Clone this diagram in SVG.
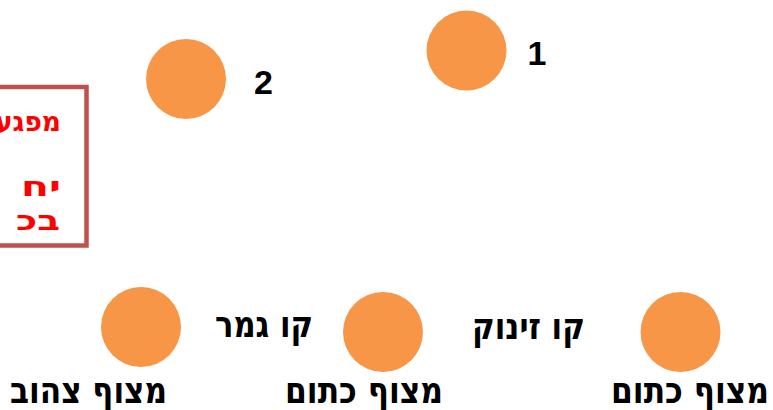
<svg xmlns="http://www.w3.org/2000/svg" width="773" height="410" viewBox="0 0 773 410">
<style>
.buoy{fill:#F79646;}
.lbl{font-family:"Liberation Sans",Arial,sans-serif;font-weight:bold;fill:#000;text-anchor:middle;}
.he{font-family:"DejaVu Sans","Liberation Sans",sans-serif;font-size:36px;}
.num{font-size:34px;}
.note{font-family:"DejaVu Sans","Liberation Sans",sans-serif;font-weight:bold;fill:#FF0000;font-size:28px;text-anchor:end;}
</style>
<rect width="773" height="410" fill="#FFFFFF"/>
<g id="note">
<rect x="-10" y="87" width="96.5" height="158.5" fill="none" stroke="#C0504D" stroke-width="4.5"/>
<text class="note" x="61" y="131" textLength="66" lengthAdjust="spacingAndGlyphs">מפגע</text>
<text class="note" x="61" y="196" textLength="40" lengthAdjust="spacingAndGlyphs">יח</text>
<text class="note" x="60" y="230" textLength="44" lengthAdjust="spacingAndGlyphs">בכ</text>
</g>
<g id="buoy1">
<circle class="buoy" cx="466.5" cy="50.5" r="40"/>
<text class="lbl num" x="537" y="65">1</text>
</g>
<g id="buoy2">
<circle class="buoy" cx="186" cy="79" r="40"/>
<text class="lbl num" x="263.5" y="94">2</text>
</g>
<g id="yellow-buoy">
<circle class="buoy" cx="141" cy="327" r="40"/>
<text class="lbl he" x="88.5" y="403" textLength="157" lengthAdjust="spacingAndGlyphs">מצוף צהוב</text>
</g>
<g id="orange-buoy-mid">
<circle class="buoy" cx="383" cy="332" r="40"/>
<text class="lbl he" x="364" y="403" textLength="158" lengthAdjust="spacingAndGlyphs">מצוף כתום</text>
</g>
<g id="orange-buoy-right">
<circle class="buoy" cx="680.5" cy="332" r="40"/>
<text class="lbl he" x="690" y="403" textLength="158" lengthAdjust="spacingAndGlyphs">מצוף כתום</text>
</g>
<g id="finish-line">
<text class="lbl he" x="264" y="337" textLength="98" lengthAdjust="spacingAndGlyphs">קו גמר</text>
</g>
<g id="start-line">
<text class="lbl he" x="528.5" y="339" textLength="113" lengthAdjust="spacingAndGlyphs">קו זינוק</text>
</g>
<g id="connectors"></g>
</svg>
